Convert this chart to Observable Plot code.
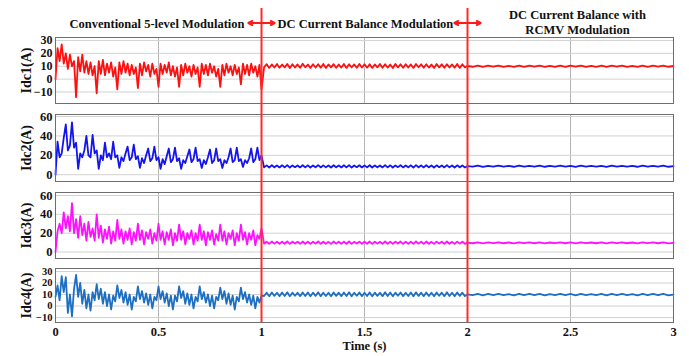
<!DOCTYPE html>
<html><head><meta charset="utf-8">
<script src="https://cdn.jsdelivr.net/npm/d3@7"></script>
<script src="https://cdn.jsdelivr.net/npm/@observablehq/plot@0.6"></script>
<style>
body{margin:0;background:#fff;}
#chart{position:relative;width:689px;height:356px;background:#fff;}
#chart svg{position:absolute;left:0;overflow:visible;}
</style></head><body><div id="chart"></div>
<script>
// ---------- data ----------
const xTicks = [0, 0.5, 1, 1.5, 2, 2.5, 3];
const xTickLabels = ["0", "0.5", "1", "1.5", "2", "2.5", "3"];
const xLabel = "Time (s)";
const switchTimes = [1, 2];
const phaseLabels = ["Conventional 5-level Modulation", "DC Current Balance Modulation", "DC Current Balance with\nRCMV Modulation"];
const panelLabels = ["Idc1(A)", "Idc2(A)", "Idc3(A)", "Idc4(A)"];
const panelColors = ["#ff1010", "#1414f0", "#ff10ff", "#1c6fc2"];
const ticks1 = [-10, 0, 10, 20, 30];
const ticks2 = [0, 20, 40, 60];
const ticks3 = [0, 20, 40, 60];
const ticks4 = [-10, 0, 10, 20, 30];

// 0 .. 1 s, every 0.01 s
const idc1Early = [0,24,14,27,12,20,8,19,10,14,-14,17,6,19,5,14,4,13,3,10,-11,14,4,15,3,12,5,13,2,9,-8,13,4,14,5,12,3,11,4,9,-7,12,3,13,6,11,2,12,4,8,-6,12,4,11,5,13,3,10,2,9,-6,11,3,12,5,10,2,11,4,9,-6,12,4,11,3,12,5,10,2,8,-6,11,3,12,5,10,3,11,4,9,-4,12,4,11,3,12,5,10,2,11,-8];
const idc2Early = [0,34,18,22,38,52,25,30,54,28,33,6,22,18,25,40,20,18,41,22,25,6,20,15,33,18,22,16,34,18,20,7,18,14,22,29,15,18,31,16,19,7,17,12,20,27,14,17,29,15,18,6,16,11,19,27,13,16,28,14,17,6,15,12,19,26,13,16,28,14,16,7,15,11,18,26,12,15,27,14,16,7,15,12,18,27,13,15,28,14,16,8,15,12,17,27,13,16,28,15,20];
const idc3Early = [0,22,30,20,42,25,38,22,52,20,35,15,38,18,30,12,32,16,25,12,40,15,28,10,24,14,27,9,22,12,34,14,24,9,22,13,25,8,21,12,30,13,23,8,21,14,24,9,20,12,30,13,22,8,21,13,24,7,20,12,29,13,22,8,20,14,23,8,20,12,29,13,22,7,21,13,23,8,19,12,29,12,22,8,20,14,23,7,20,12,29,13,21,8,20,13,23,7,18,14,25];
const idc4Early = [8,18,5,26,12,25,-6,10,-9,15,27,8,20,2,14,-2,10,-4,12,5,19,6,15,2,12,0,10,-3,9,4,18,7,14,3,12,1,10,-3,8,4,17,6,13,3,11,1,10,-2,8,5,17,6,13,3,11,0,9,-3,9,4,17,7,13,2,11,1,10,-2,8,4,17,6,12,3,10,0,9,-2,8,5,16,6,13,2,11,1,9,-3,8,4,16,6,12,3,10,1,9,-2,8,3,9];

// 1 .. 2 s, every 0.0125 s
const idc1Mid = [9.2,11.6,8.7,11.4,9.0,11.8,8.8,11.3,9.1,11.7,8.6,11.5,9.0,11.4,8.8,11.9,9.2,11.3,8.7,11.6,9.0,11.5,8.9,11.7,8.6,11.4,9.1,11.6,8.8,11.3,9.0,11.8,8.7,11.5,9.2,11.4,8.8,11.7,9.0,11.5,8.9,11.6,8.7,11.4,9.1,11.8,8.8,11.5,9.0,11.3,8.6,11.7,9.1,11.5,8.8,11.6,9.0,11.4,8.7,11.8,9.2,11.5,8.8,11.6,9.0,11.3,8.7,11.7,9.1,11.5,8.8,11.6,9.0,11.4,8.9,11.8,8.7,11.5,9.1,10.2];
const idc2Mid = [7.6,9.6,7.4,9.8,7.7,9.5,7.5,9.7,7.6,9.9,7.4,9.6,7.8,9.5,7.5,9.8,7.6,9.7,7.4,9.6,7.7,9.9,7.5,9.6,7.6,9.5,7.4,9.8,7.7,9.6,7.5,9.7,7.6,9.9,7.4,9.5,7.8,9.7,7.5,9.6,7.6,9.8,7.4,9.6,7.7,9.5,7.5,9.9,7.6,9.7,7.4,9.6,7.8,9.8,7.5,9.5,7.6,9.7,7.4,9.9,7.7,9.6,7.5,9.8,7.6,9.5,7.4,9.7,7.8,9.6,7.5,9.9,7.6,9.5,7.4,9.7,7.7,9.6,7.5,8.8];
const idc3Mid = [8.8,10.9,8.6,11.1,8.9,10.8,8.7,11.0,8.8,11.2,8.6,10.9,9.0,10.8,8.7,11.1,8.8,11.0,8.6,10.9,8.9,11.2,8.7,10.9,8.8,10.8,8.6,11.1,8.9,10.9,8.7,11.0,8.8,11.2,8.6,10.8,9.0,11.0,8.7,10.9,8.8,11.1,8.6,10.9,8.9,10.8,8.7,11.2,8.8,11.0,8.6,10.9,9.0,11.1,8.7,10.8,8.8,11.0,8.6,11.2,8.9,10.9,8.7,11.1,8.8,10.8,8.6,11.0,9.0,10.9,8.7,11.2,8.8,10.8,8.6,11.0,8.9,10.9,8.7,9.9];
const idc4Mid = [8.7,11.6,8.5,11.8,8.8,11.5,8.6,11.7,8.7,11.9,8.5,11.6,8.9,11.5,8.6,11.8,8.7,11.7,8.5,11.6,8.8,11.9,8.6,11.6,8.7,11.5,8.5,11.8,8.8,11.6,8.6,11.7,8.7,11.9,8.5,11.5,8.9,11.7,8.6,11.6,8.7,11.8,8.5,11.6,8.8,11.5,8.6,11.9,8.7,11.7,8.5,11.6,8.9,11.8,8.6,11.5,8.7,11.7,8.5,11.9,8.8,11.6,8.6,11.8,8.7,11.5,8.5,11.7,8.9,11.6,8.6,11.9,8.7,11.5,8.5,11.7,8.8,11.6,8.6,10.2];

// 2 .. 3 s, every 0.025 s
const idc1Late = [9.6,10.5,9.5,10.4,9.7,10.5,9.5,10.3,9.6,10.5,9.5,10.4,9.7,10.5,9.6,10.3,9.5,10.5,9.6,10.4,9.7,10.5,9.5,10.3,9.6,10.4,9.5,10.5,9.7,10.4,9.6,10.3,9.5,10.5,9.6,10.4,9.7,10.5,9.6,10.2];
const idc2Late = [8.3,9.3,8.2,9.2,8.4,9.3,8.3,9.1,8.2,9.3,8.4,9.2,8.3,9.3,8.2,9.1,8.4,9.3,8.3,9.2,8.2,9.3,8.4,9.1,8.3,9.2,8.2,9.3,8.4,9.2,8.3,9.1,8.2,9.3,8.4,9.2,8.3,9.3,8.2,8.8];
const idc3Late = [9.3,10.3,9.2,10.2,9.4,10.3,9.3,10.1,9.2,10.3,9.4,10.2,9.3,10.3,9.2,10.1,9.4,10.3,9.3,10.2,9.2,10.3,9.4,10.1,9.3,10.2,9.2,10.3,9.4,10.2,9.3,10.1,9.2,10.3,9.4,10.2,9.3,10.3,9.2,9.8];
const idc4Late = [9.4,10.6,9.3,10.5,9.5,10.6,9.4,10.4,9.3,10.6,9.5,10.5,9.4,10.6,9.3,10.4,9.5,10.6,9.4,10.5,9.3,10.6,9.5,10.4,9.4,10.5,9.3,10.6,9.5,10.5,9.4,10.4,9.3,10.6,9.5,10.5,9.4,10.6,9.3,10.0];

// ---------- build ----------
function series(early, mid, late) {
  const out = [];
  early.forEach((v, i) => out.push({t: i * 0.01, v}));
  mid.forEach((v, i) => out.push({t: 1 + (i + 1) * 0.0125, v}));
  late.forEach((v, i) => out.push({t: 2 + (i + 1) * 0.025, v}));
  return out;
}

const font = {fontFamily: "'Liberation Serif','Times New Roman',serif", fontWeight: "bold", fontSize: "12.5px", color: "#111", background: "transparent"};

const panels = [
  {data: series(idc1Early, idc1Mid, idc1Late), ticks: ticks1, domain: [-18.9, 32.3], top: 31, h: 78, tickFont: 12},
  {data: series(idc2Early, idc2Mid, idc2Late), ticks: ticks2, domain: [-7, 62.1], top: 108, h: 79, tickFont: 12.5},
  {data: series(idc3Early, idc3Mid, idc3Late), ticks: ticks3, domain: [-6.9, 63.2], top: 186, h: 78, tickFont: 12.5},
  {data: series(idc4Early, idc4Mid, idc4Late), ticks: ticks4, domain: [-14.3, 32.6], top: 262, h: 94, tickFont: 10.5, last: true}
];

const chart = document.getElementById("chart");

panels.forEach((p, k) => {
  const marks = [
    Plot.gridX(xTicks, {stroke: "#b4b4b4", strokeOpacity: 1}),
    Plot.gridY(p.ticks, {stroke: "#d2d2d2", strokeOpacity: 1}),
    Plot.line(p.data, {x: "t", y: "v", stroke: panelColors[k], strokeWidth: 1.8}),
    Plot.frame({stroke: "#6e6e6e"}),
    Plot.axisY(p.ticks, {tickSize: 0, tickPadding: 3, label: null, fontSize: p.tickFont}),
    Plot.text([panelLabels[k]], {text: d => d, frameAnchor: "left", rotate: -90, dx: -29, fontSize: 14, textAnchor: "middle", lineAnchor: "middle"})
  ];
  if (p.last) {
    marks.push(Plot.axisX(xTicks, {tickSize: 0, tickPadding: 5, tickFormat: d => xTickLabels[xTicks.indexOf(d)], label: xLabel, labelAnchor: "center", labelOffset: 27, labelArrow: "none"}));
  }
  const svg = Plot.plot({
    width: 689, height: p.h,
    marginLeft: 55, marginRight: 16, marginTop: 6, marginBottom: p.last ? 34 : 6,
    x: {domain: [0, 3], axis: p.last ? undefined : null},
    y: {domain: p.domain},
    style: font,
    marks
  });
  svg.style.top = p.top + "px";
  chart.appendChild(svg);
});

// overlay: switching instants, arrows and phase titles
const arrowData = switchTimes.flatMap(t => [{x1: t, x2: t - 0.064}, {x1: t, x2: t + 0.064}]);
const titleData = [
  {x: switchTimes[0], text: phaseLabels[0], anchor: "end", y: 22.5},
  {x: switchTimes[0], text: phaseLabels[1], anchor: "start", y: 22.5},
  {x: 2.5, text: phaseLabels[2], anchor: "middle", y: 21.5}
];
const overlay = Plot.plot({
  width: 689, height: 356, marginLeft: 55, marginRight: 16, marginTop: 0, marginBottom: 0,
  x: {domain: [0, 3], axis: null},
  y: {domain: [0, 356], range: [0, 356], axis: null},
  style: font,
  marks: [
    Plot.ruleX(switchTimes, {x: d => d, y1: 8, y2: 322, stroke: "#ff2b2b", strokeWidth: 2}),
    Plot.arrow(arrowData, {x1: "x1", x2: "x2", y1: 22.5, y2: 22.5, stroke: "#ff1a1a", strokeWidth: 2, headLength: 7, headAngle: 55}),
    Plot.text(titleData.filter(d => d.anchor === "end"), {x: "x", y: "y", text: "text", textAnchor: "end", dx: -17, lineHeight: 1.2}),
    Plot.text(titleData.filter(d => d.anchor === "start"), {x: "x", y: "y", text: "text", textAnchor: "start", dx: 16, lineHeight: 1.2}),
    Plot.text(titleData.filter(d => d.anchor === "middle"), {x: "x", y: "y", text: "text", textAnchor: "middle", dx: 7, lineHeight: 1.2})
  ]
});
overlay.style.top = "0px";
overlay.style.pointerEvents = "none";
chart.appendChild(overlay);
</script>
</body></html>
